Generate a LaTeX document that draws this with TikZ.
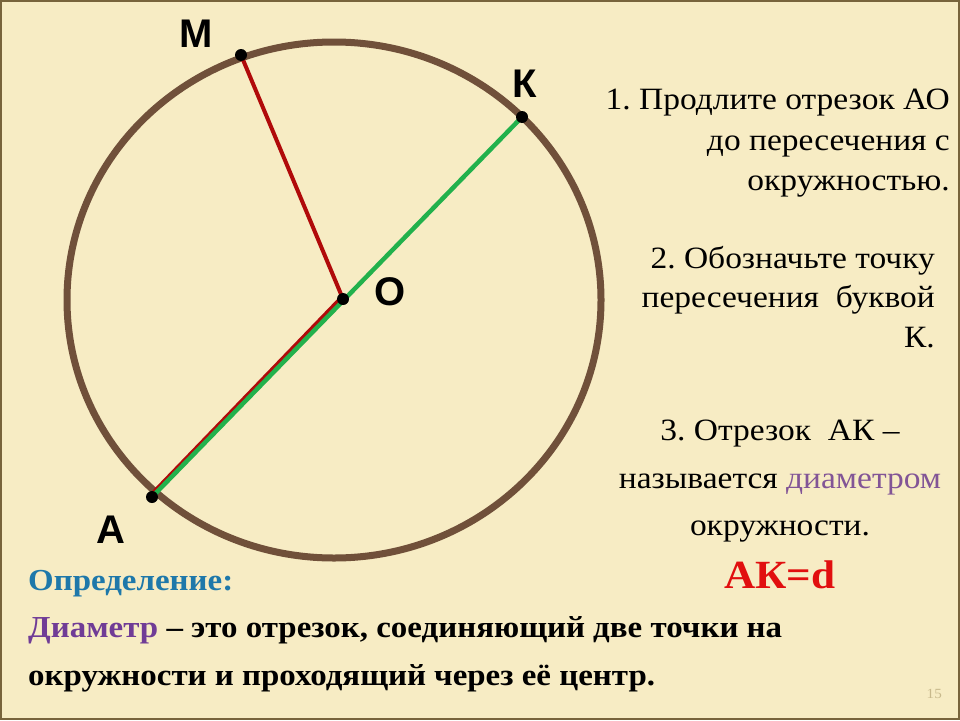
\documentclass[tikz,border=0pt]{standalone}
\usepackage{fontspec}
\setmainfont{Liberation Serif}[FakeStretch=1.08]
\newfontfamily\lblfont{Liberation Sans}
\usetikzlibrary{positioning, calc}
\frenchspacing

\definecolor{slidebg}{RGB}{247,236,196}
\definecolor{framecol}{RGB}{120,100,60}
\definecolor{ringbrown}{RGB}{112,80,58}
\definecolor{radred}{RGB}{176,10,10}
\definecolor{diagreen}{RGB}{34,177,76}
\definecolor{defblue}{RGB}{30,120,170}
\definecolor{diampurple}{RGB}{112,60,150}
\definecolor{diamlight}{RGB}{130,85,150}
\definecolor{ansred}{RGB}{225,15,15}
\definecolor{pagegrey}{RGB}{200,185,140}

\tikzset{
    pt/.style={circle, fill=black, inner sep=0pt, minimum size=12pt},
    ptlabel/.style={font=\lblfont\bfseries\fontsize{40}{40}\selectfont,
        inner sep=0pt, anchor=base},
    stepline/.style={font=\fontsize{31}{36}\selectfont,
        inner sep=0pt, anchor=base east},
    stepmid/.style={font=\fontsize{31}{36}\selectfont,
        inner sep=0pt, anchor=base},
    defline/.style={font=\bfseries\fontsize{30.5}{34}\selectfont,
        inner sep=0pt, anchor=base west},
}

\begin{document}
\begin{tikzpicture}[x=1pt, y=-1pt]
\fill[slidebg] (0,0) rectangle (960,720);
\draw[framecol, line width=2pt] (1,1) rectangle (959,719);
\useasboundingbox (0,0) rectangle (960,720);

\coordinate (O) at (343,299);
\coordinate (M) at (241,55);
\coordinate (K) at (522,117);
\coordinate (A) at (152,497);

\draw[ringbrown, line width=7pt] (334,300) ellipse [x radius=267, y radius=258];

\draw[radred, line width=4pt] (M) -- (O);
\draw[radred, line width=4pt]
    ([shift={(-1.5,-1.5)}]O) -- ([shift={(-1.5,-1.5)}]A);
\draw[diagreen, line width=4.5pt] (A) -- (K);

\node[pt] (Mdot) at (M) {};
\node[pt] (Kdot) at (K) {};
\node[pt] (Odot) at (O) {};
\node[pt] (Adot) at (A) {};

\node[ptlabel] (Mlbl) at (196,47) {М};
\node[ptlabel] (Klbl) at (525,97) {К};
\node[ptlabel] (Olbl) at (390,305) {О};
\node[ptlabel] (Albl) at (111,543) {А};

\node[stepline] (s1a) at (950,109) {1. Продлите отрезок АО};
\node[stepline] (s1b) at ($(s1a.base east) + (0,41)$) {до пересечения с};
\node[stepline] (s1c) at ($(s1b.base east) + (0,40)$) {окружностью.};

\node[stepline] (s2a) at (935,268) {2. Обозначьте точку};
\node[stepline] (s2b) at ($(s2a.base east) + (0,39)$) {пересечения\ \ буквой};
\node[stepline] (s2c) at ($(s2b.base east) + (0,40)$) {К.};

\node[stepmid] (s3a) at (780,440) {3. Отрезок\ \ АК –};
\node[stepmid] (s3b) at ($(s3a.base) + (0,48)$)
    {называется \textcolor{diamlight}{диаметром}};
\node[stepmid] (s3c) at ($(s3b.base) + (0,47)$) {окружности.};
\node[inner sep=0pt, anchor=base, text=ansred,
    font=\bfseries\fontsize{40}{40}\selectfont] (ak) at ($(s3c.base) + (0,53)$) {АК=d};

\node[defline, text=defblue] (defhead) at (28,590) {Определение:};
\node[defline] (def1) at ($(defhead.base west) + (0,47)$)
    {\textcolor{diampurple}{Диаметр} – это отрезок, соединяющий две точки на};
\node[defline] (def2) at ($(def1.base west) + (0,48)$)
    {окружности и проходящий через её центр.};

\node[inner sep=0pt, anchor=base east, text=pagegrey,
    font=\fontsize{14}{14}\selectfont] (pnum) at (942,698) {15};
\end{tikzpicture}
\end{document}
